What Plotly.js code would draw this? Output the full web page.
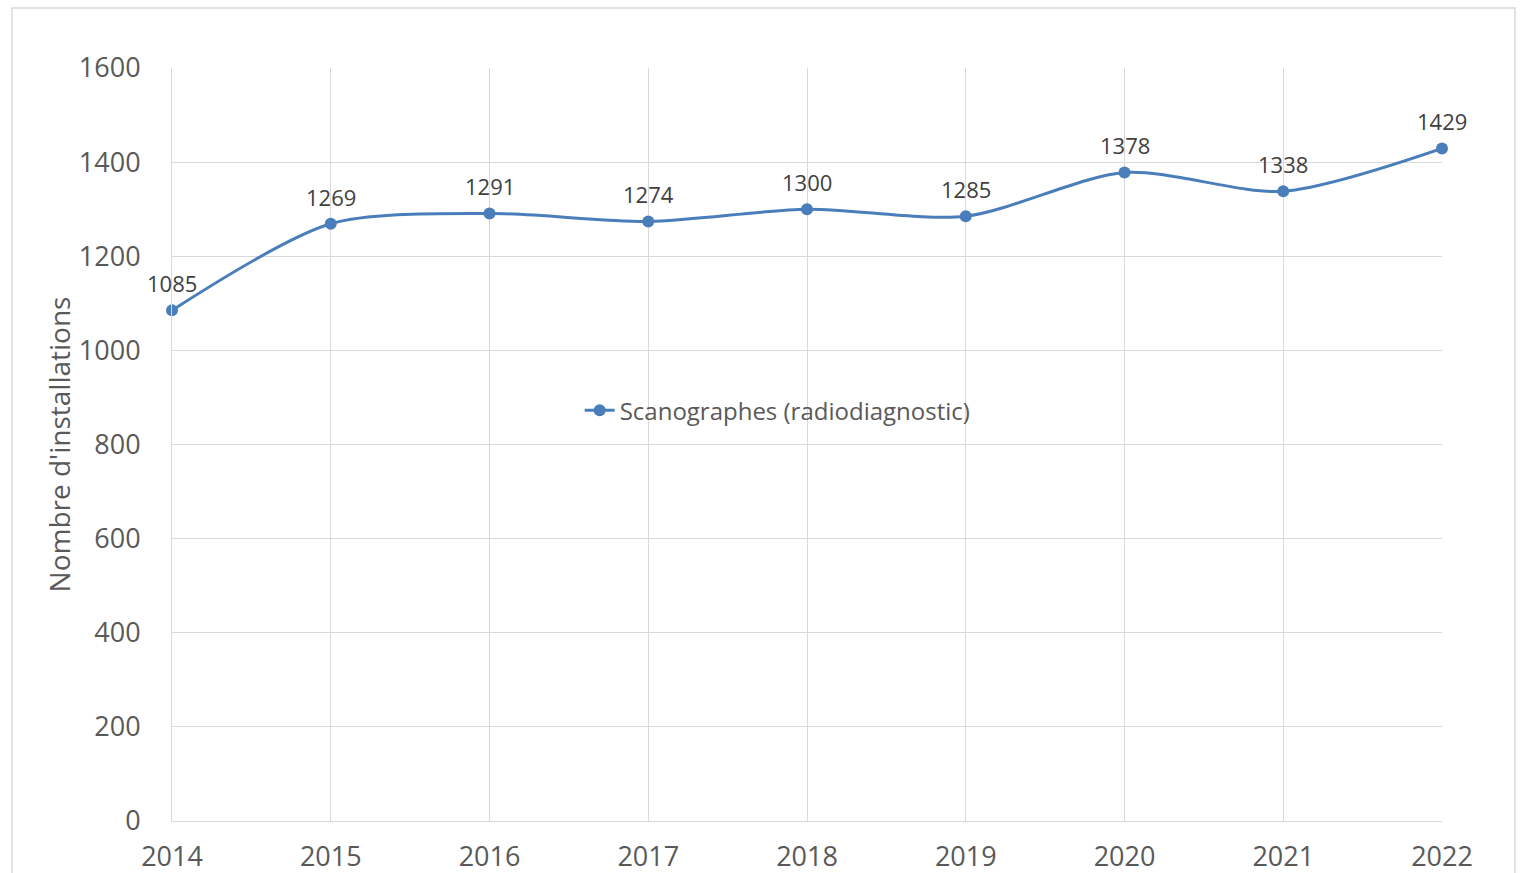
<!DOCTYPE html>
<html>
<head>
<meta charset="utf-8">
<script src="https://cdn.plot.ly/plotly-3.0.1.min.js"></script>
<style>html,body{margin:0;padding:0;background:#fff;}#chart{width:1523px;height:873px;}</style>
</head>
<body>
<div id="chart"></div>
<script>
const years = [2014, 2015, 2016, 2017, 2018, 2019, 2020, 2021, 2022];
const installations = [1085, 1269, 1291, 1274, 1300, 1285, 1378, 1338, 1429];
const seriesName = "Scanographes (radiodiagnostic)";
const yTitle = "Nombre d'installations";
const yTicks = [0, 200, 400, 600, 800, 1000, 1200, 1400, 1600];

const FONT = "Open Sans, sans-serif";
const trace = {
  x: years,
  y: installations,
  name: seriesName,
  type: "scatter",
  mode: "lines+markers",
  line: {color: "#4a7ebb", width: 3, shape: "spline", smoothing: 0.8},
  marker: {color: "#4a7ebb", size: 12},
  cliponaxis: false
};

const labels = years.map((yr, i) => ({
  x: yr, y: installations[i], xref: "x", yref: "y",
  text: String(installations[i]), showarrow: false,
  yshift: 27, font: {family: FONT, size: 22, color: "#404040"}
}));

const layout = {
  width: 1523, height: 873,
  margin: {l: 172, r: 81, t: 68, b: 52},
  paper_bgcolor: "#ffffff",
  plot_bgcolor: "#ffffff",
  font: {family: FONT, color: "#595959"},
  showlegend: true,
  legend: {x: 0.321, y: 0.545, xanchor: "left", yanchor: "middle",
           font: {family: FONT, size: 24, color: "#595959"}, bgcolor: "rgba(0,0,0,0)"},
  xaxis: {
    range: [2014, 2022], tickvals: years, ticktext: years.map(String),
    showgrid: true, gridcolor: "#d9d9d9", gridwidth: 1,
    zeroline: false, showline: true, linecolor: "#d9d9d9", linewidth: 1,
    ticks: "", ticklabelstandoff: 12,
    tickfont: {family: FONT, size: 27, color: "#595959"}
  },
  yaxis: {
    range: [0, 1600], tickvals: yTicks,
    showgrid: true, gridcolor: "#d9d9d9", gridwidth: 1,
    zeroline: false, showline: true, linecolor: "#d9d9d9", linewidth: 1,
    ticks: "", ticklabelstandoff: 25,
    tickfont: {family: FONT, size: 27, color: "#595959"},
    title: {text: yTitle, font: {family: FONT, size: 28, color: "#595959"}, standoff: 0}
  },
  annotations: labels,
  shapes: [{
    type: "rect", xref: "paper", yref: "paper",
    x0: -0.126, x1: 1.0575, y0: -0.09, y1: 1.0797,
    line: {color: "#d9d9d9", width: 1.5}, fillcolor: "rgba(0,0,0,0)", layer: "below"
  }]
};

Plotly.newPlot("chart", [trace], layout, {displayModeBar: false, staticPlot: true});
</script>
</body>
</html>
